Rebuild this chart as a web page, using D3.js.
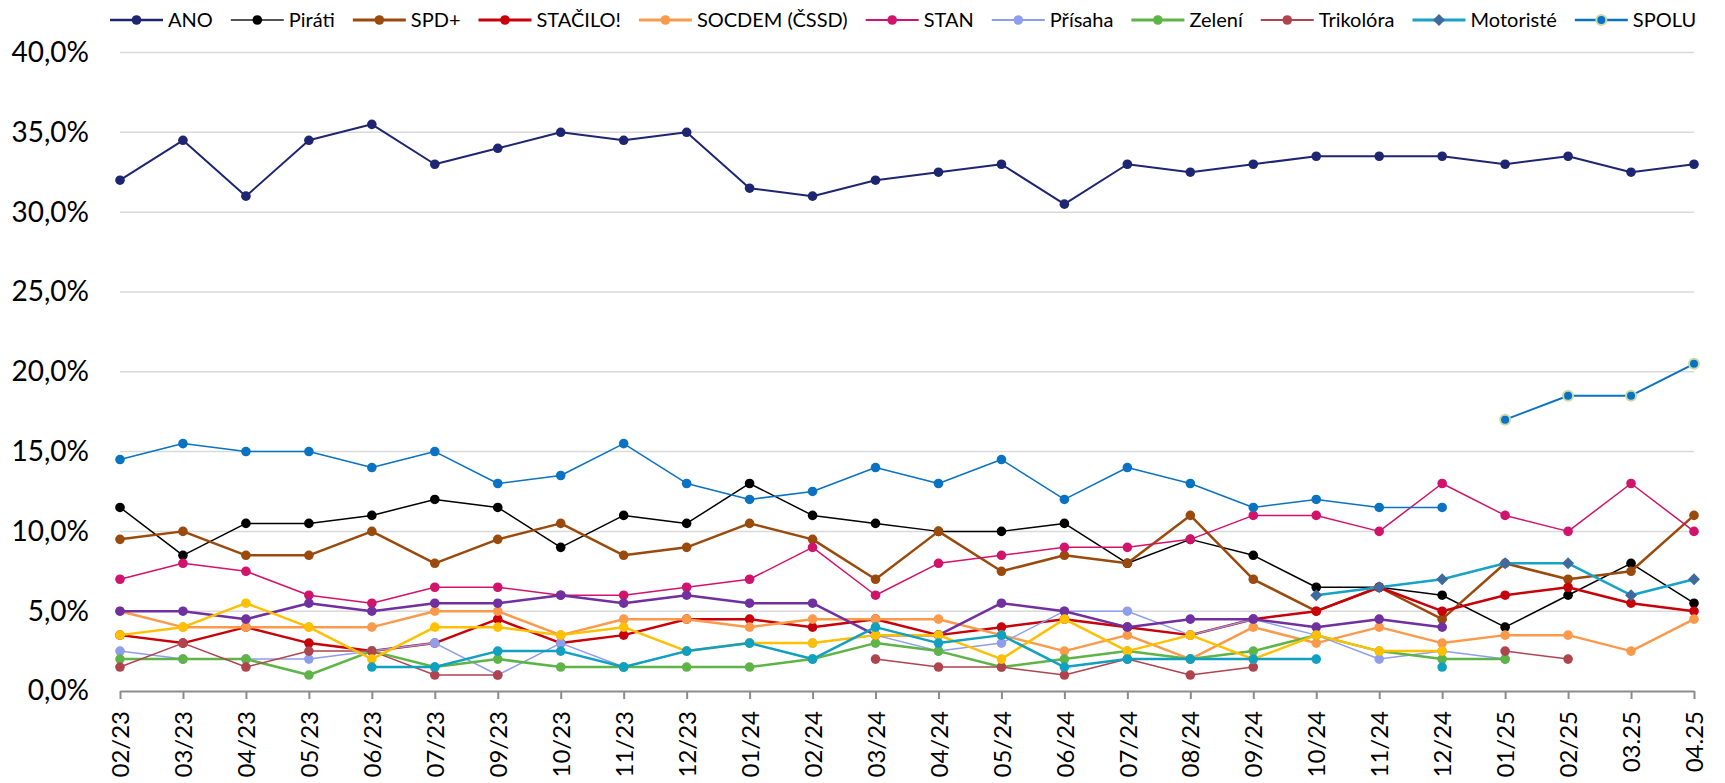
<!DOCTYPE html>
<html><head><meta charset="utf-8">
<script src="https://cdn.jsdelivr.net/npm/d3@7"></script>
<style>body{margin:0;background:#fff}svg{display:block}</style>
</head><body>
<svg id="c" width="1725" height="783"></svg>
<script>
const categories = ["02/23","03/23","04/23","05/23","06/23","07/23","09/23","10/23","11/23","12/23","01/24","02/24","03/24","04/24","05/24","06/24","07/24","08/24","09/24","10/24","11/24","12/24","01/25","02/25","03.25","04.25"];
const yTicks = [0,5,10,15,20,25,30,35,40];
const N = null;
const ano      = [32,34.5,31,34.5,35.5,33,34,35,34.5,35,31.5,31,32,32.5,33,30.5,33,32.5,33,33.5,33.5,33.5,33,33.5,32.5,33];
const pirati   = [11.5,8.5,10.5,10.5,11,12,11.5,9,11,10.5,13,11,10.5,10,10,10.5,8,9.5,8.5,6.5,6.5,6,4,6,8,5.5];
const spd      = [9.5,10,8.5,8.5,10,8,9.5,10.5,8.5,9,10.5,9.5,7,10,7.5,8.5,8,11,7,5,6.5,4.5,8,7,7.5,11];
const stacilo  = [3.5,3,4,3,2.5,3,4.5,3,3.5,4.5,4.5,4,4.5,3.5,4,4.5,4,3.5,4.5,5,6.5,5,6,6.5,5.5,5];
const socdem   = [5,4,4,4,4,5,5,3.5,4.5,4.5,4,4.5,4.5,4.5,3.5,2.5,3.5,2,4,3,4,3,3.5,3.5,2.5,4.5];
const stan     = [7,8,7.5,6,5.5,6.5,6.5,6,6,6.5,7,9,6,8,8.5,9,9,9.5,11,11,10,13,11,10,13,10];
const prisaha  = [2.5,2,2,2,2.5,3,1,3,1.5,2.5,3,3,3.5,2.5,3,5,5,3.5,4.5,3.5,2,2.5,2,N,N,N];
const zeleni   = [2,2,2,1,2.5,1.5,2,1.5,1.5,1.5,1.5,2,3,2.5,1.5,2,2.5,2,2.5,3.5,2.5,2,2,N,N,N];
const trikolora= [1.5,3,1.5,2.5,2.5,1,1,N,N,N,N,N,2,1.5,1.5,1,2,1,1.5,N,N,N,2.5,2,N,N];
const motoriste= [N,N,N,N,N,N,N,N,N,N,N,N,N,N,N,N,N,N,N,6,6.5,7,8,8,6,7];
const spolu    = [N,N,N,N,N,N,N,N,N,N,N,N,N,N,N,N,N,N,N,N,N,N,17,18.5,18.5,20.5];
const ods      = [14.5,15.5,15,15,14,15,13,13.5,15.5,13,12,12.5,14,13,14.5,12,14,13,11.5,12,11.5,11.5,N,N,N,N];
const kdu      = [5,5,4.5,5.5,5,5.5,5.5,6,5.5,6,5.5,5.5,3.5,3.5,5.5,5,4,4.5,4.5,4,4.5,4,N,N,N,N];
const top09    = [3.5,4,5.5,4,2,4,4,3.5,4,2.5,3,3,3.5,3.5,2,4.5,2.5,3.5,2,3.5,2.5,2.5,N,N,N,N];
const svobodni = [N,N,N,N,1.5,1.5,2.5,2.5,1.5,2.5,3,2,4,3,3.5,1.5,2,2,2,2,N,1.5,N,N,N,N];

const series = [
  {name:"ANO", values:ano, color:"#1e2571", w:2, legend:true},
  {name:"Piráti", values:pirati, color:"#000000", w:1.5, legend:true, legendLine:"#555"},
  {name:"SPD+", values:spd, color:"#9a4a0c", w:2.5, legend:true},
  {name:"STAČILO!", values:stacilo, color:"#c8000a", w:2.5, legend:true},
  {name:"SOCDEM (ČSSD)", values:socdem, color:"#fb9a4b", w:2.5, legend:true},
  {name:"STAN", values:stan, color:"#d2136b", w:1.5, legend:true},
  {name:"Přísaha", values:prisaha, color:"#8f9ded", w:1.5, legend:true},
  {name:"Zelení", values:zeleni, color:"#5fb447", w:2.5, legend:true},
  {name:"Trikolóra", values:trikolora, color:"#b0444e", w:1.5, legend:true},
  {name:"Motoristé", values:motoriste, color:"#17a2c6", w:2.5, legend:true, marker:"diamond", mcolor:"#3f6aa0"},
  {name:"SPOLU", values:spolu, color:"#0a72c2", w:2, legend:true, mstroke:"#c8daa6"},
  {name:"ODS", values:ods, color:"#0a72c2", w:1.5, legend:false},
  {name:"KDU-ČSL", values:kdu, color:"#7030a0", w:2.5, legend:false},
  {name:"TOP 09", values:top09, color:"#ffc000", w:2.5, legend:false},
  {name:"Svobodní", values:svobodni, color:"#10a0c0", w:2.5, legend:false}
];
const svg = d3.select("#c");
const x = d3.scalePoint().domain(categories).range([120,1694]);
const y = d3.scaleLinear().domain([0,40]).range([691,52.5]);
const FONT = "Lato, 'Open Sans', sans-serif";

// gridlines
svg.append("g").selectAll("line").data(yTicks.filter(d=>d>0)).join("line")
  .attr("x1",120).attr("x2",1694).attr("y1",d=>y(d)).attr("y2",d=>y(d))
  .attr("stroke","#d9d9d9").attr("stroke-width",1.5);

// y axis labels
const ya = svg.append("g").attr("transform","translate(120,0)")
  .call(d3.axisLeft(y).tickValues(yTicks).tickSize(0).tickPadding(31)
    .tickFormat(d=>d.toFixed(1).replace(".",",")+"%"));
ya.select(".domain").remove();
ya.selectAll("text").attr("font-family",FONT).attr("font-size",28).attr("fill","#000");

// x axis
const xa = svg.append("g").attr("transform","translate(0,691)")
  .call(d3.axisBottom(x).tickSize(8).tickSizeOuter(0));
xa.select(".domain").attr("stroke","#8c8c8c").attr("stroke-width",2);
xa.selectAll(".tick line").attr("stroke","#8c8c8c").attr("stroke-width",2);
xa.selectAll("text").attr("font-family",FONT).attr("font-size",24).attr("fill","#000")
  .attr("transform","rotate(-90)").attr("text-anchor","end")
  .attr("x",-20).attr("y",0).attr("dy","0.36em");

const line = d3.line().defined(v=>v!=null).x((v,i)=>x(categories[i])).y(v=>y(v));
const diamond = s => `M0,${-s}L${s},0L0,${s}L${-s},0Z`;

function drawMarker(g, s, px, py){
  if(s.marker==="diamond"){
    g.append("path").attr("d",diamond(6)).attr("transform",`translate(${px},${py})`).attr("fill",s.mcolor);
  } else {
    const c = g.append("circle").attr("cx",px).attr("cy",py).attr("r",s.mstroke?5:4.8).attr("fill",s.color);
    if(s.mstroke) c.attr("stroke",s.mstroke).attr("stroke-width",2);
  }
}

const plot = svg.append("g");
series.forEach(s=>{
  const g = plot.append("g");
  g.append("path").attr("d",line(s.values)).attr("fill","none")
    .attr("stroke",s.color).attr("stroke-width",s.w).attr("stroke-linejoin","round");
  s.values.forEach((v,i)=>{ if(v!=null) drawMarker(g,s,x(categories[i]),y(v)); });
});

// legend
const lg = svg.append("g");
let lx = 110; const ly = 20;
series.filter(s=>s.legend).forEach(s=>{
  const g = lg.append("g");
  g.append("line").attr("x1",lx).attr("x2",lx+53).attr("y1",ly).attr("y2",ly)
    .attr("stroke",s.legendLine||s.color).attr("stroke-width",s.w+0.5);
  drawMarker(g,s,lx+26.5,ly);
  const t = g.append("text").attr("x",lx+58).attr("y",ly).attr("dy","0.36em")
    .attr("font-family",FONT).attr("font-size",20).attr("fill","#000").text(s.name);
  lx += 58 + t.node().getComputedTextLength() + 18;
});
</script>
</body></html>
